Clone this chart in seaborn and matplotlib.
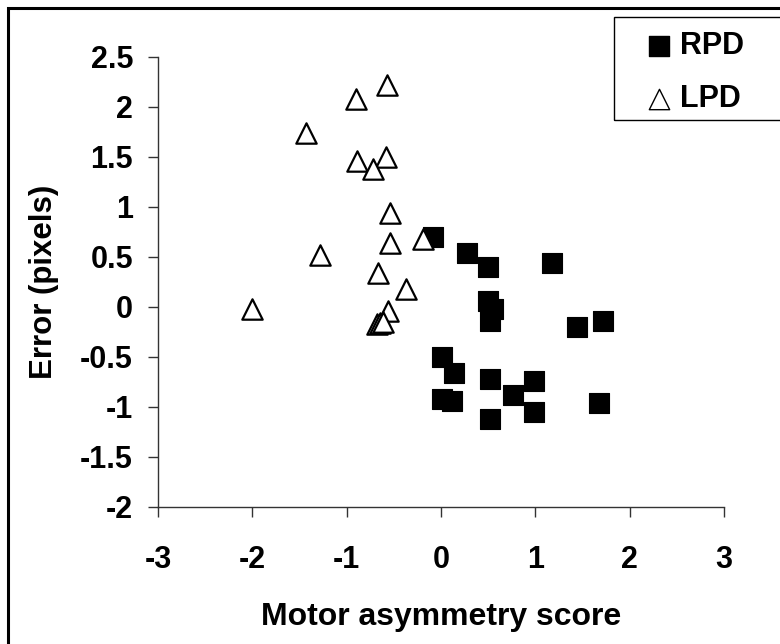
import matplotlib
matplotlib.use("Agg")
import matplotlib.pyplot as plt
import seaborn as sns
import pandas as pd
from matplotlib.patches import Rectangle

# values
rpd_x = [-0.09, 0.28, 0.50, 1.18, 0.50, 0.55, 0.52, 1.44, 1.72, 0.01,
         0.14, 0.52, 0.99, 0.76, 0.01, 0.12, 0.99, 0.52, 1.67]
rpd_y = [0.70, 0.54, 0.40, 0.44, 0.06, -0.02, -0.14, -0.20, -0.14, -0.50,
         -0.66, -0.72, -0.74, -0.88, -0.92, -0.94, -1.05, -1.12, -0.96]

lpd_x = [-0.57, -0.90, -1.43, -0.89, -0.58, -0.72, -0.54, -0.54, -0.19,
         -1.28, -0.67, -0.37, -2.00, -0.56, -0.68, -0.65, -0.62]
lpd_y = [2.22, 2.08, 1.74, 1.46, 1.50, 1.38, 0.94, 0.64, 0.68,
         0.52, 0.34, 0.18, -0.02, -0.04, -0.17, -0.16, -0.15]

x_ticks = [-3, -2, -1, 0, 1, 2, 3]
y_ticks = [-2, -1.5, -1, -0.5, 0, 0.5, 1, 1.5, 2, 2.5]

rpd = pd.DataFrame({"x": rpd_x, "y": rpd_y})
lpd = pd.DataFrame({"x": lpd_x, "y": lpd_y})

sns.set_style("ticks")
plt.rcParams["font.family"] = ["Liberation Sans", "DejaVu Sans"]
plt.rcParams["font.weight"] = "bold"
plt.rcParams["text.color"] = "black"
plt.rcParams["axes.labelcolor"] = "black"
plt.rcParams["xtick.labelcolor"] = "black"
plt.rcParams["ytick.labelcolor"] = "black"

W, H = 780, 644
fig = plt.figure(figsize=(W / 100, H / 100), dpi=100)
ax = fig.add_axes([158 / W, 1 - 507 / H, (724 - 158) / W, (507 - 57) / H])

sns.scatterplot(data=rpd, x="x", y="y", marker="s", s=205, color="black",
                edgecolor="black", linewidth=0.8, label="RPD", ax=ax, zorder=3)
sns.scatterplot(data=lpd, x="x", y="y", marker="^", s=215, facecolor="white",
                edgecolor="black", linewidth=1.6, label="LPD", ax=ax, zorder=4)

ax.set_xlim(-3, 3)
ax.set_ylim(-2, 2.5)
ax.set_xticks(x_ticks)
ax.set_yticks(y_ticks)
ax.set_xticklabels([f"{t:g}" for t in x_ticks])
ax.set_yticklabels([f"{t:g}" for t in y_ticks])
ax.tick_params(labelsize=22, length=7, width=1, color="#333333")
ax.tick_params(axis="x", pad=20)
ax.tick_params(axis="y", pad=11)
for side in ["top", "right"]:
    ax.spines[side].set_visible(False)
for side in ["left", "bottom"]:
    ax.spines[side].set_linewidth(1)
    ax.spines[side].set_color("#333333")

ax.set_xlabel("Motor asymmetry score", fontsize=23, fontweight="bold", labelpad=20)
ax.set_ylabel("Error (pixels)", fontsize=22.5, fontweight="bold", labelpad=15)

leg = ax.legend(loc="upper left", bbox_to_anchor=(646 / W, 1 - 31 / H),
                bbox_transform=fig.transFigure, frameon=False,
                fontsize=22, handletextpad=0.25, borderpad=0,
                labelspacing=0.75, handlelength=0.85, borderaxespad=0,
                markerscale=1.0)
for t in leg.get_texts():
    t.set_fontweight("bold")
for h in leg.legend_handles:
    h.set_linewidth(1.0)

# legend frame and the page frame, both running off the right edge
fig.patches.append(Rectangle((614 / W, 1 - 120 / H), (790 - 614) / W, (120 - 17) / H,
                             transform=fig.transFigure, fill=False,
                             edgecolor="black", linewidth=1))
fig.patches.append(Rectangle((8 / W, -0.1), 1.2, 1.1 - 8 / H,
                             transform=fig.transFigure, fill=False,
                             edgecolor="black", linewidth=2.2))

fig.savefig("out.png", dpi=100)
